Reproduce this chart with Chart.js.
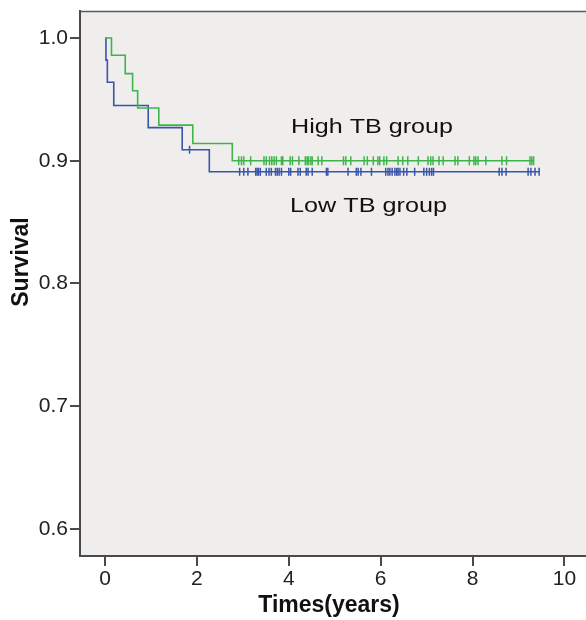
<!DOCTYPE html>
<html>
<head>
<meta charset="utf-8">
<script src="https://cdn.jsdelivr.net/npm/chart.js@4.4.1/dist/chart.umd.min.js"></script>
<style>
  html, body { margin: 0; padding: 0; background: #ffffff; }
  #wrap { width: 586px; height: 620px; position: relative; }
</style>
</head>
<body>
<div id="wrap"><canvas id="c" width="586" height="620"></canvas></div>
<script>
// ---- data ----
const timeTicks = [0, 2, 4, 6, 8, 10];
const survivalTicks = [0.6, 0.7, 0.8, 0.9, 1.0];

const highLabel = "High TB group";
const highEventTimes = [0, 0.14, 0.44, 0.60, 0.71, 1.17, 1.91, 2.77];
const highSurvival   = [1.0, 0.986, 0.971, 0.957, 0.943, 0.929, 0.914, 0.900];
const highCensorTimes = [2.91, 2.97, 3.02, 3.17, 3.46, 3.51, 3.58, 3.63, 3.68, 3.73, 3.84, 3.87,
  4.03, 4.08, 4.22, 4.36, 4.40, 4.43, 4.48, 4.51, 4.64, 4.72, 5.19, 5.24, 5.35, 5.64, 5.71,
  5.84, 5.94, 5.98, 6.07, 6.13, 6.38, 6.48, 6.59, 6.82, 7.03, 7.09, 7.14, 7.27, 7.36, 7.62,
  7.68, 7.93, 8.03, 8.07, 8.12, 8.29, 8.64, 8.74, 9.25, 9.29, 9.33];

const lowLabel = "Low TB group";
const lowEventTimes = [0, 0.02, 0.05, 0.19, 0.94, 1.68, 2.27];
const lowSurvival   = [1.0, 0.982, 0.964, 0.945, 0.927, 0.909, 0.891];
const lowCensorTimes = [1.84, 2.93, 3.02, 3.11, 3.28, 3.31, 3.34, 3.38, 3.51, 3.57, 3.62, 3.71,
  3.75, 3.79, 3.84, 4.00, 4.04, 4.20, 4.25, 4.38, 4.42, 4.51, 4.82, 4.85, 5.29, 5.47, 5.51,
  5.57, 5.80, 6.11, 6.16, 6.20, 6.25, 6.31, 6.35, 6.38, 6.42, 6.50, 6.57, 6.74, 6.94, 7.00,
  7.06, 7.11, 7.15, 8.58, 8.64, 8.73, 9.21, 9.27, 9.36, 9.45];

const xTitle = "Times(years)";
const yTitle = "Survival";

// ---- helpers ----
function survivalAt(t, times, surv) {
  let s = surv[0];
  for (let i = 0; i < times.length; i++) { if (times[i] <= t) s = surv[i]; }
  return s;
}
function curve(times, surv, censors) {
  const pts = times.map((t, i) => ({ x: t, y: surv[i] }));
  const last = censors[censors.length - 1];
  pts.push({ x: last, y: survivalAt(last, times, surv) });
  return pts;
}
function marks(times, surv, censors) {
  return censors.map(t => ({ x: t, y: survivalAt(t, times, surv) }));
}

const GREEN = '#3db54a';
const BLUE = '#3a54a8';
const FONT = '"Liberation Sans", Arial, Helvetica, sans-serif';

const bgPlugin = {
  id: 'bg',
  beforeDraw(chart) {
    const { ctx, chartArea: a } = chart;
    ctx.save();
    ctx.fillStyle = '#ffffff';
    ctx.fillRect(0, 0, chart.width, chart.height);
    ctx.fillStyle = '#efeeec';
    ctx.fillRect(a.left, a.top, a.right - a.left, a.bottom - a.top);
    ctx.strokeStyle = '#5a5a5a';
    ctx.lineWidth = 1.5;
    ctx.beginPath();
    ctx.moveTo(a.left, a.top + 0.5);
    ctx.lineTo(a.right, a.top + 0.5);
    ctx.stroke();
    ctx.restore();
  }
};

function drawStretched(ctx, text, x, y, targetW) {
  const w = ctx.measureText(text).width;
  const k = targetW / w;
  ctx.save();
  ctx.translate(x, y);
  ctx.scale(k, 1);
  ctx.fillText(text, 0, 0);
  ctx.restore();
}

const textPlugin = {
  id: 'texts',
  afterDraw(chart) {
    const { ctx } = chart;
    ctx.save();
    ctx.fillStyle = '#111111';
    ctx.textBaseline = 'alphabetic';
    ctx.textAlign = 'left';
    ctx.font = '21px ' + FONT;
    drawStretched(ctx, highLabel, 291, 133, 162);
    drawStretched(ctx, lowLabel, 290, 212, 157);
    // axis titles
    ctx.font = 'bold 23px ' + FONT;
    ctx.textAlign = 'center';
    ctx.fillText(xTitle, 329, 612);
    ctx.translate(28, 262);
    ctx.rotate(-Math.PI / 2);
    ctx.fillText(yTitle, 0, 0);
    ctx.restore();
  }
};

new Chart(document.getElementById('c'), {
  type: 'line',
  data: {
    datasets: [
      { label: highLabel, data: curve(highEventTimes, highSurvival, highCensorTimes),
        borderColor: GREEN, borderWidth: 1.6, stepped: 'before', pointRadius: 0, fill: false },
      { label: lowLabel, data: curve(lowEventTimes, lowSurvival, lowCensorTimes),
        borderColor: BLUE, borderWidth: 1.6, stepped: 'before', pointRadius: 0, fill: false },
      { label: highLabel + ' censored', data: marks(highEventTimes, highSurvival, highCensorTimes),
        showLine: false, pointStyle: 'line', rotation: 90, pointRadius: 4.5,
        borderColor: GREEN, pointBorderColor: GREEN, pointBorderWidth: 1.5 },
      { label: lowLabel + ' censored', data: marks(lowEventTimes, lowSurvival, lowCensorTimes),
        showLine: false, pointStyle: 'line', rotation: 90, pointRadius: 4,
        borderColor: BLUE, pointBorderColor: BLUE, pointBorderWidth: 1.5 }
    ]
  },
  options: {
    responsive: false,
    animation: false,
    layout: { autoPadding: false, padding: { top: 11, left: 0, right: 0, bottom: 0 } },
    plugins: { legend: { display: false }, tooltip: { enabled: false } },
    scales: {
      x: {
        type: 'linear', min: -0.545, max: 10.47,
        afterBuildTicks: s => { s.ticks = timeTicks.map(v => ({ value: v })); },
        afterFit: s => { s.height = 64; s.paddingLeft = 0; s.paddingRight = 0; },
        border: { display: true, color: '#4a4a4a', width: 2 },
        grid: { drawOnChartArea: false, drawTicks: true, tickLength: 10, color: '#4a4a4a', lineWidth: 2 },
        ticks: { color: '#222222', font: { family: FONT, size: 21 }, padding: 1, maxRotation: 0,
          callback: v => String(v) }
      },
      y: {
        type: 'linear', min: 0.578, max: 1.022,
        afterBuildTicks: s => { s.ticks = survivalTicks.map(v => ({ value: v })); },
        afterFit: s => { s.width = 80; s.paddingTop = 0; s.paddingBottom = 0; },
        border: { display: true, color: '#4a4a4a', width: 2 },
        grid: { drawOnChartArea: false, drawTicks: true, tickLength: 10, color: '#4a4a4a', lineWidth: 2 },
        ticks: { color: '#222222', font: { family: FONT, size: 21 }, padding: 2,
          callback: v => Number(v).toFixed(1) }
      }
    }
  },
  plugins: [bgPlugin, textPlugin]
});
</script>
</body>
</html>
